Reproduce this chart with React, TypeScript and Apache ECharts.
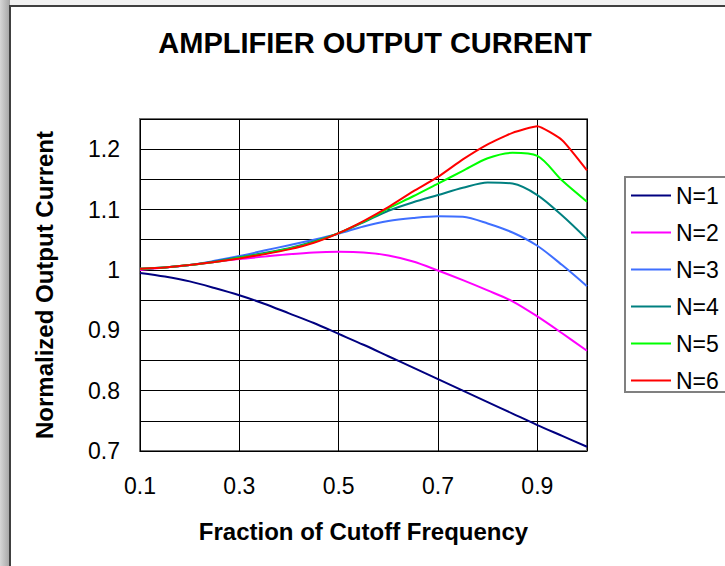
import React, { useEffect, useRef } from "react";
import * as echarts from "echarts";

const fractions = [0.1, 0.15, 0.2, 0.25, 0.3, 0.35, 0.4, 0.45, 0.5, 0.55, 0.6, 0.65, 0.7, 0.75, 0.8, 0.85, 0.9, 0.95, 1.0];

const n1 = [0.995, 0.989, 0.981, 0.970, 0.958, 0.944, 0.928, 0.912, 0.894, 0.876, 0.857, 0.838, 0.819, 0.800, 0.781, 0.762, 0.743, 0.725, 0.707];
const n2 = [1.000, 1.004, 1.008, 1.013, 1.018, 1.022, 1.026, 1.029, 1.030, 1.029, 1.024, 1.014, 0.999, 0.983, 0.966, 0.948, 0.923, 0.895, 0.866];
const n3 = [1.002, 1.004, 1.008, 1.015, 1.023, 1.032, 1.041, 1.050, 1.060, 1.072, 1.081, 1.086, 1.089, 1.088, 1.077, 1.062, 1.040, 1.008, 0.973];
const n4 = [1.002, 1.004, 1.008, 1.014, 1.021, 1.028, 1.036, 1.047, 1.061, 1.079, 1.098, 1.112, 1.124, 1.136, 1.145, 1.143, 1.124, 1.090, 1.051];
const n5 = [1.002, 1.004, 1.008, 1.013, 1.020, 1.027, 1.035, 1.046, 1.061, 1.080, 1.102, 1.122, 1.143, 1.164, 1.185, 1.194, 1.189, 1.148, 1.113];
const n6 = [1.002, 1.004, 1.008, 1.013, 1.019, 1.026, 1.034, 1.045, 1.061, 1.081, 1.104, 1.130, 1.154, 1.183, 1.208, 1.227, 1.238, 1.215, 1.165];

const seriesNames = ["N=1", "N=2", "N=3", "N=4", "N=5", "N=6"];
const seriesValues = [n1, n2, n3, n4, n5, n6];
const seriesColors = ["#000080", "#FF00FF", "#3F6FFF", "#008080", "#00FF00", "#FF0000"];
const seriesSmooth = [0.3, 0.3, 0.3, 0.3, 0.3, 0.15];

const FONT = "'Liberation Sans', Arial, Helvetica, sans-serif";

export default function App() {
  const ref = useRef<HTMLDivElement>(null);

  useEffect(() => {
    if (!ref.current) return;
    const chart = echarts.init(ref.current, undefined, { renderer: "svg" });
    const option: any = {
      animation: false,
      backgroundColor: "#ffffff",
      textStyle: { fontFamily: FONT },
      graphic: [
        {
          type: "rect",
          z: -100,
          shape: { x: 0, y: 0, width: 725, height: 566 },
          style: { fill: "#f2f2f2" },
          silent: true,
        },
        {
          type: "rect",
          z: -99,
          shape: { x: 0, y: 0, width: 10, height: 566 },
          style: {
            fill: new echarts.graphic.LinearGradient(0, 0, 1, 0, [
              { offset: 0, color: "#d6d6d6" },
              { offset: 1, color: "#a4a4a4" },
            ]),
          },
          silent: true,
        },
        {
          type: "rect",
          z: -98,
          shape: { x: 10, y: 6, width: 760, height: 620 },
          style: { fill: "#ffffff", stroke: "#404040", lineWidth: 2 },
          silent: true,
        },
        {
          type: "rect",
          z: -97,
          shape: { x: 625, y: 177, width: 130, height: 215 },
          style: { fill: "#ffffff", stroke: "#808080", lineWidth: 2 },
          silent: true,
        },
        {
          type: "text",
          x: 375,
          y: 43,
          style: {
            text: "AMPLIFIER OUTPUT CURRENT",
            font: `bold 29px ${FONT}`,
            fill: "#000",
            align: "center",
            verticalAlign: "middle",
          },
        },
      ],
      legend: {
        orient: "vertical",
        left: 631,
        top: 184,
        padding: 0,
        icon: "rect",
        itemWidth: 40,
        itemHeight: 2,
        itemGap: 14,
        textStyle: { fontSize: 23, lineHeight: 22, color: "#000", fontFamily: FONT },
        data: seriesNames,
      },
      grid: {
        left: 140,
        top: 119,
        width: 447,
        height: 332,
        show: true,
        backgroundColor: "#ffffff",
        borderColor: "#707070",
        borderWidth: 2,
      },
      xAxis: {
        type: "value",
        min: 0.1,
        max: 1.0,
        interval: 0.2,
        axisLine: { show: false },
        axisTick: { show: false },
        splitLine: { show: true, lineStyle: { color: "#000", width: 1 } },
        axisLabel: {
          fontSize: 23,
          color: "#000",
          margin: 23,
          fontFamily: FONT,
          formatter: (v: number) => (v > 0.95 ? "" : v.toFixed(1)),
        },
        name: "Fraction of Cutoff Frequency",
        nameLocation: "middle",
        nameGap: 68,
        nameTextStyle: { fontSize: 24, fontWeight: "bold", color: "#000", fontFamily: FONT },
      },
      yAxis: {
        type: "value",
        min: 0.7,
        max: 1.25,
        interval: 0.05,
        axisLine: { show: false },
        axisTick: { show: false },
        splitLine: { show: true, lineStyle: { color: "#000", width: 1 } },
        axisLabel: {
          fontSize: 23,
          color: "#000",
          margin: 20,
          fontFamily: FONT,
          formatter: (v: number) => {
            const t = v * 10;
            if (Math.abs(t - Math.round(t)) > 1e-6) return "";
            return String(Math.round(t) / 10);
          },
        },
        name: "Normalized Output Current",
        nameLocation: "middle",
        nameGap: 84,
        nameRotate: 90,
        nameTextStyle: { fontSize: 24, fontWeight: "bold", color: "#000", fontFamily: FONT },
      },
      series: seriesNames.map((name, i) => ({
        name,
        type: "line",
        data: fractions.map((f, j) => [f, seriesValues[i][j]]),
        showSymbol: false,
        symbol: "none",
        smooth: seriesSmooth[i],
        lineStyle: { color: seriesColors[i], width: 2 },
        itemStyle: { color: seriesColors[i] },
      })),
    };
    chart.setOption(option);
    return () => chart.dispose();
  }, []);

  return (
    <div
      ref={ref}
      style={{ position: "fixed", left: 0, top: 0, width: 725, height: 566 }}
    />
  );
}
